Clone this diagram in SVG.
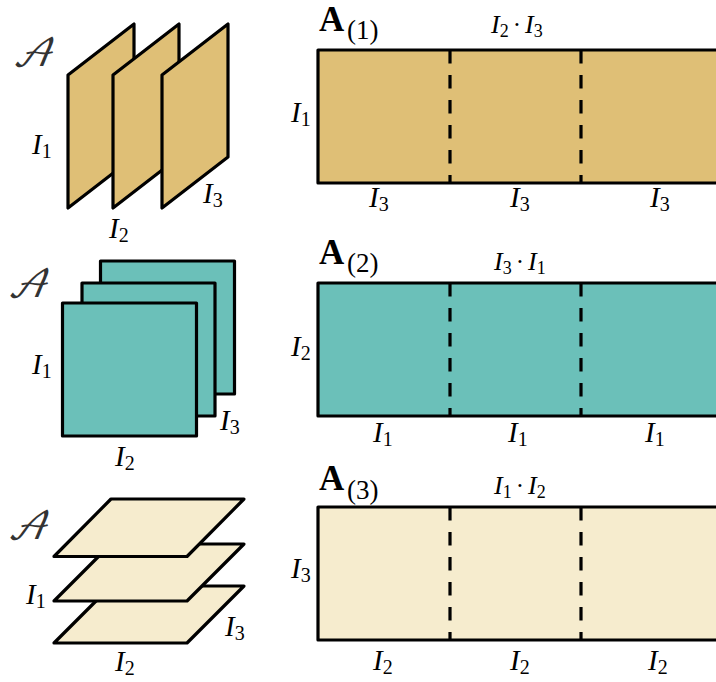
<svg xmlns="http://www.w3.org/2000/svg" width="716" height="682" viewBox="0 0 716 682">
<style>
.s{stroke:#000;stroke-width:3.200;stroke-linejoin:round}
.a{fill:#dfbf76}.b{fill:#6bc0b9}.c{fill:#f6ecce}
.d{stroke:#000;stroke-width:3.200;stroke-dasharray:13.5 11.5;fill:none}
text{font-family:"Liberation Serif","Times New Roman",serif;fill:#000}
.l{font-size:29px;font-style:italic}
.l tspan{font-size:20px;font-style:normal}
.t{font-size:26px;font-style:italic}
.t tspan{font-size:18px;font-style:normal}
.t .o{font-size:25px}
.h{font-size:35px;font-weight:bold}
.p{font-size:27px}
.x{font-size:38px;font-family:"DejaVu Math TeX Gyre","DejaVu Sans","Liberation Serif",serif;font-style:italic;fill:#333}
</style>
<g id="tensor-1">
<path class="s a" d="M68 75L134 24V157L68 208Z"/>
<path class="s a" d="M113 75L179 24V157L113 208Z"/>
<path class="s a" d="M162 75L228 24V157L162 208Z"/>
<text class="x" x="12" y="66">𝒜</text>
<text class="l" x="32" y="154">I<tspan dy="4">1</tspan></text>
<text class="l" x="109" y="238">I<tspan dy="4">2</tspan></text>
<text class="l" x="203" y="203">I<tspan dy="4">3</tspan></text>
</g>
<g id="tensor-2">
<rect class="s b" x="100.500" y="261" width="134" height="133"/>
<rect class="s b" x="82" y="283" width="133" height="133"/>
<rect class="s b" x="62.500" y="303" width="134" height="133"/>
<text class="x" x="7" y="297">𝒜</text>
<text class="l" x="32" y="374">I<tspan dy="4">1</tspan></text>
<text class="l" x="115" y="466">I<tspan dy="4">2</tspan></text>
<text class="l" x="220" y="430">I<tspan dy="4">3</tspan></text>
</g>
<g id="tensor-3">
<path class="s c" d="M54 643L111 586H244L187 643Z"/>
<path class="s c" d="M54 601L111 544H244L187 601Z"/>
<path class="s c" d="M54 556.500L111 499H244L187 556.500Z"/>
<text class="x" x="7" y="539">𝒜</text>
<text class="l" x="26" y="604">I<tspan dy="4">1</tspan></text>
<text class="l" x="115" y="671">I<tspan dy="4">2</tspan></text>
<text class="l" x="225" y="636">I<tspan dy="4">3</tspan></text>
</g>
<g id="matrix-1">
<rect class="s a" x="318" y="50" width="402" height="133"/>
<text class="h" x="319" y="31">A</text>
<text class="p" x="347" y="39">(1)</text>
<text class="l" x="291" y="122">I<tspan dy="4">1</tspan></text>
<text class="t" x="491" y="33">I<tspan dy="4">2</tspan><tspan class="o" dx="4" dy="-4">·</tspan><tspan dx="4" dy="0" style="font-size:26px;font-style:italic">I</tspan><tspan dy="4">3</tspan></text>
<text class="l" x="369" y="207">I<tspan dy="4">3</tspan></text>
<text class="l" x="510" y="207">I<tspan dy="4">3</tspan></text>
<text class="l" x="650" y="207">I<tspan dy="4">3</tspan></text>
</g>
<g id="matrix-2">
<rect class="s b" x="318" y="283" width="402" height="133"/>
<text class="h" x="319" y="264">A</text>
<text class="p" x="347" y="272">(2)</text>
<text class="l" x="291" y="356">I<tspan dy="4">2</tspan></text>
<text class="t" x="494" y="270">I<tspan dy="4">3</tspan><tspan class="o" dx="4" dy="-4">·</tspan><tspan dx="4" dy="0" style="font-size:26px;font-style:italic">I</tspan><tspan dy="4">1</tspan></text>
<text class="l" x="373" y="442">I<tspan dy="4">1</tspan></text>
<text class="l" x="508" y="442">I<tspan dy="4">1</tspan></text>
<text class="l" x="645" y="442">I<tspan dy="4">1</tspan></text>
</g>
<g id="matrix-3">
<rect class="s c" x="318" y="507" width="402" height="133"/>
<text class="h" x="319" y="490">A</text>
<text class="p" x="347" y="499">(3)</text>
<text class="l" x="291" y="578">I<tspan dy="4">3</tspan></text>
<text class="t" x="494" y="494">I<tspan dy="4">1</tspan><tspan class="o" dx="4" dy="-4">·</tspan><tspan dx="4" dy="0" style="font-size:26px;font-style:italic">I</tspan><tspan dy="4">2</tspan></text>
<text class="l" x="373" y="670">I<tspan dy="4">2</tspan></text>
<text class="l" x="510" y="670">I<tspan dy="4">2</tspan></text>
<text class="l" x="648" y="670">I<tspan dy="4">2</tspan></text>
</g>
<g id="connectors">
<path class="d" d="M450 50V183M581 50V183M450 283V416M581 283V416M450 507V640M581 507V640"/>
</g>
</svg>
